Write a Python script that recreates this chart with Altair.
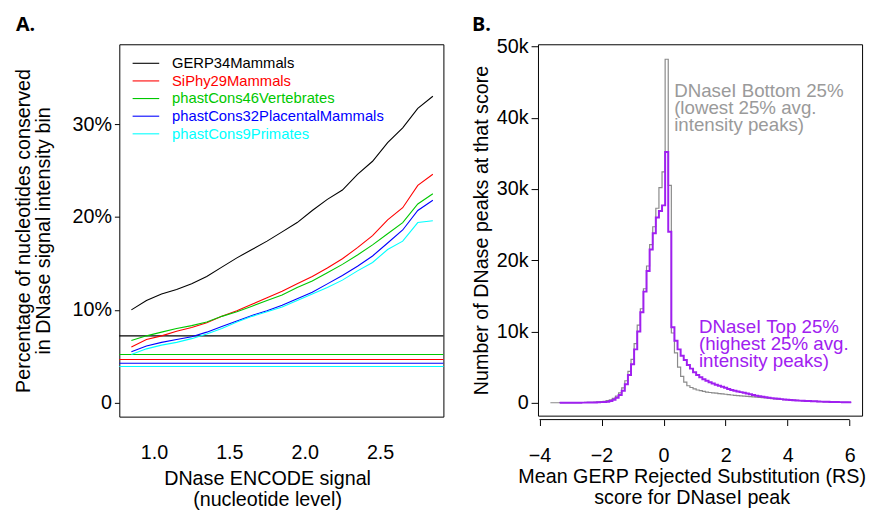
import altair as alt
import pandas as pd
import numpy as np

# ---------------- Panel A data ----------------
signal_x = [0.85, 0.95, 1.05, 1.15, 1.25, 1.35, 1.45, 1.55, 1.65, 1.75, 1.85,
            1.95, 2.05, 2.15, 2.25, 2.35, 2.45, 2.55, 2.65, 2.75, 2.85]
gerp34 = [10.0, 11.0, 11.7, 12.2, 12.8, 13.6, 14.6, 15.6, 16.5, 17.4, 18.4,
          19.4, 20.7, 21.9, 22.9, 24.6, 26.0, 28.0, 29.6, 31.7, 33.0]
siphy29 = [6.0, 6.8, 7.2, 7.7, 8.1, 8.6, 9.3, 9.9, 10.6, 11.3, 12.0,
           12.8, 13.6, 14.5, 15.5, 16.7, 18.0, 19.7, 21.0, 23.4, 24.6]
pc46 = [6.7, 7.2, 7.6, 8.0, 8.3, 8.7, 9.3, 9.8, 10.4, 11.0, 11.6,
        12.4, 13.1, 14.0, 14.9, 15.9, 17.0, 18.2, 19.4, 21.4, 22.5]
pc32 = [5.5, 6.1, 6.5, 6.8, 7.1, 7.6, 8.2, 8.8, 9.4, 9.9, 10.5,
        11.2, 11.9, 12.8, 13.7, 14.7, 15.8, 17.2, 18.6, 20.7, 21.8]
pc9 = [5.2, 5.8, 6.2, 6.5, 6.9, 7.4, 8.0, 8.7, 9.3, 9.8, 10.3,
       11.0, 11.7, 12.4, 13.2, 14.2, 15.1, 16.5, 17.4, 19.4, 19.6]
series_names = ["GERP34Mammals", "SiPhy29Mammals", "phastCons46Vertebrates",
                "phastCons32PlacentalMammals", "phastCons9Primates"]
series_colors = ["#000000", "#FF0000", "#00C800", "#0000FF", "#00FFFF"]
baseline_pct = [7.2, 4.65, 5.2, 4.25, 3.9]
pct_ticks = [0, 10, 20, 30]
signal_ticks = [1.0, 1.5, 2.0, 2.5]

# ---------------- Panel B data (counts in thousands) ----------------
bin_width = 0.1
top_start = -3.35
top_counts = [0.01, 0.01, 0.01, 0.01, 0.02, 0.02, 0.02, 0.03, 0.03, 0.04, 0.05,
              0.06, 0.08, 0.1, 0.12, 0.16, 0.25, 0.42, 0.7, 1.1, 1.7, 2.6, 3.9,
              5.4, 7.5, 10.0, 12.7, 15.6, 18.5, 21.5, 23.8, 26.0, 26.9,
              27.7, 35.2, 24.0, 10.6, 8.7, 7.5, 6.6, 6.0, 5.3, 4.8, 4.3, 3.9,
              3.6, 3.3, 3.1, 2.9, 2.7, 2.55, 2.4, 2.25, 2.1, 1.95, 1.8, 1.7,
              1.6, 1.5, 1.4, 1.3, 1.2, 1.1, 1.0, 0.92, 0.85, 0.78, 0.72, 0.66,
              0.6, 0.56, 0.52, 0.48, 0.44, 0.4, 0.37, 0.34, 0.31, 0.29, 0.27,
              0.25, 0.23, 0.21, 0.19, 0.17, 0.15, 0.14, 0.13, 0.12, 0.11, 0.1,
              0.09, 0.08, 0.07]
bottom_start = -3.65
bottom_counts = [0.01, 0.01, 0.01, 0.02, 0.02, 0.02, 0.03, 0.03, 0.04, 0.04,
                 0.05, 0.06, 0.07, 0.08, 0.1, 0.13, 0.17, 0.22, 0.3, 0.42, 0.62,
                 0.95, 1.4, 2.1, 3.1, 4.4, 6.1, 8.3, 10.9, 13.2, 16.0, 19.2,
                 22.2, 24.7, 27.3, 30.2,
                 32.4, 48.2, 30.5, 9.8, 7.0, 5.0, 3.7, 2.9, 2.4, 2.15, 1.95,
                 1.8, 1.7, 1.6, 1.5, 1.45, 1.4, 1.35, 1.3, 1.25, 1.2, 1.15, 1.1,
                 1.05, 1.0, 0.97, 0.93, 0.9, 0.86, 0.83, 0.8, 0.76, 0.72, 0.68,
                 0.64, 0.6, 0.56, 0.52, 0.49, 0.46, 0.43, 0.4, 0.37, 0.34, 0.31,
                 0.28, 0.26, 0.24, 0.22, 0.2, 0.18, 0.16, 0.14, 0.12, 0.11, 0.1,
                 0.09, 0.08, 0.07, 0.06, 0.05]
rs_ticks = [-4, -2, 0, 2, 4, 6]
count_ticks = [0, 10, 20, 30, 40, 50]
bottom_label = "DNaseI Bottom 25%\n(lowest 25% avg.\nintensity peaks)"
top_label = "DNaseI Top 25%\n(highest 25% avg.\nintensity peaks)"
panel_labels = ["A.", "B."]
PURPLE = "#A020F0"
GRAY_LINE = "#8a8a8a"
GRAY_TEXT = "#9a9a9a"
FONT = "Liberation Sans"

# ---------------- Panel A ----------------
rows = []
for name, vals in zip(series_names, [gerp34, siphy29, pc46, pc32, pc9]):
    for xv, yv in zip(signal_x, vals):
        rows.append({"x": xv, "pct": yv, "series": name})
df_a = pd.DataFrame(rows)
df_base = pd.DataFrame({"series": series_names, "pct": baseline_pct})
df_leg = pd.DataFrame({"series": series_names, "idx": list(range(len(series_names)))})

color_scale = alt.Scale(domain=series_names, range=series_colors)
colA = alt.Color("series:N", scale=color_scale, legend=None)
xA = alt.X("x:Q", scale=alt.Scale(domain=[0.77, 2.92], nice=False, zero=False),
           axis=alt.Axis(values=signal_ticks, format=".1f", ticks=False, domain=False,
                         labelPadding=27, title=["DNase ENCODE signal", "(nucleotide level)"],
                         titlePadding=6, titleX=150, titleLineHeight=21))
yA = alt.Y("pct:Q", scale=alt.Scale(domain=[-1.5, 38.6], nice=False, zero=False),
           axis=alt.Axis(values=pct_ticks, domain=False, tickSize=5, labelPadding=3,
                         labelExpr="datum.value == 0 ? '0' : datum.value + '%'",
                         title=["Percentage of nucleotides conserved", "in DNase signal intensity bin"],
                         titlePadding=19, titleLineHeight=20))

linesA = alt.Chart(df_a).mark_line(strokeWidth=1.1).encode(x=xA, y=yA, color=colA)
rulesA = alt.Chart(df_base).mark_rule(strokeWidth=1.1).encode(y="pct:Q", color=colA)
legRule = alt.Chart(df_leg).transform_calculate(ly="19.3 + 17.9*datum.idx").mark_rule(strokeWidth=1.1).encode(
    x=alt.value(13.5), x2=alt.value(40.5), y=alt.Y("ly:Q", scale=None, axis=None), color=colA)
legText = alt.Chart(df_leg).transform_calculate(ly="19.3 + 17.9*datum.idx").mark_text(
    align="left", baseline="middle", fontSize=15, font=FONT).encode(
    x=alt.value(53.5), y=alt.Y("ly:Q", scale=None, axis=None), text="series:N", color=colA)
labA = alt.Chart(pd.DataFrame({"t": [panel_labels[0]]})).mark_text(
    align="left", baseline="alphabetic", fontSize=20, font="Open Sans", fontWeight="bold",
    color="black").encode(x=alt.value(-105), y=alt.value(-13), text="t:N")

panelA = alt.layer(rulesA, linesA, legRule, legText, labA).properties(width=329, height=378)

# ---------------- Panel B ----------------
def step_frame(start, counts, grp):
    edges = start + bin_width * np.arange(len(counts) + 1)
    return pd.DataFrame({"x": edges, "k": list(counts) + [counts[-1]], "grp": grp})

df_top = step_frame(top_start, top_counts, "top")
df_bot = step_frame(bottom_start, bottom_counts, "bottom")

xB = alt.X("x:Q", scale=alt.Scale(domain=[-4.05, 6.4], nice=False, zero=False),
           axis=alt.Axis(values=rs_ticks, domain=False, offset=4, tickSize=6, labelPadding=21,
                         title=["Mean GERP Rejected Substitution (RS)", "score for DNaseI peak"],
                         titlePadding=1, titleX=156, titleLineHeight=21))
yB = alt.Y("k:Q", scale=alt.Scale(domain=[-1.8, 50.3], nice=False, zero=False),
           axis=alt.Axis(values=count_ticks, domain=False, tickSize=7, labelPadding=3,
                         labelExpr="datum.value == 0 ? '0' : datum.value + 'k'",
                         title="Number of DNase peaks at that score", titlePadding=5))

botLine = alt.Chart(df_bot).mark_line(interpolate="step-after", color=GRAY_LINE, strokeWidth=1.2).encode(x=xB, y=yB)
topLine = alt.Chart(df_top).mark_line(interpolate="step-after", color=PURPLE, strokeWidth=2).encode(x=xB, y=yB)
axisLine = alt.Chart(pd.DataFrame({"x": [rs_ticks[0]], "x2": [rs_ticks[-1]]})).mark_rule(
    color="black", strokeWidth=1).encode(x=xB, x2="x2:Q", y=alt.value(381))
annBot = alt.Chart(pd.DataFrame({"x": [0.34], "k": [45.0], "t": [bottom_label]})).mark_text(
    align="left", baseline="top", lineBreak="\n", lineHeight=17.5, fontSize=19, font=FONT,
    color=GRAY_TEXT).encode(x=xB, y=yB, text="t:N")
annTop = alt.Chart(pd.DataFrame({"x": [1.14], "k": [11.9], "t": [top_label]})).mark_text(
    align="left", baseline="top", lineBreak="\n", lineHeight=17.5, fontSize=19, font=FONT,
    color=PURPLE).encode(x=xB, y=yB, text="t:N")
labB = alt.Chart(pd.DataFrame({"t": [panel_labels[1]]})).mark_text(
    align="left", baseline="alphabetic", fontSize=20, font="Open Sans", fontWeight="bold",
    color="black").encode(x=alt.value(-67), y=alt.value(-13), text="t:N")

panelB = alt.layer(botLine, topLine, axisLine, annBot, annTop, labB).properties(width=329, height=377)

chart = alt.hconcat(panelA, panelB, spacing=26).properties(
    padding={"left": 5, "top": 3, "right": 0, "bottom": 0}
).configure_view(stroke="black", strokeWidth=1).configure_axis(
    labelFont=FONT, titleFont=FONT, labelFontSize=20, titleFontSize=20,
    titleFontWeight="normal", labelColor="black", titleColor="black",
    tickColor="black", grid=False)

chart.save("out.html", embed_options={"renderer": "svg", "actions": False})
